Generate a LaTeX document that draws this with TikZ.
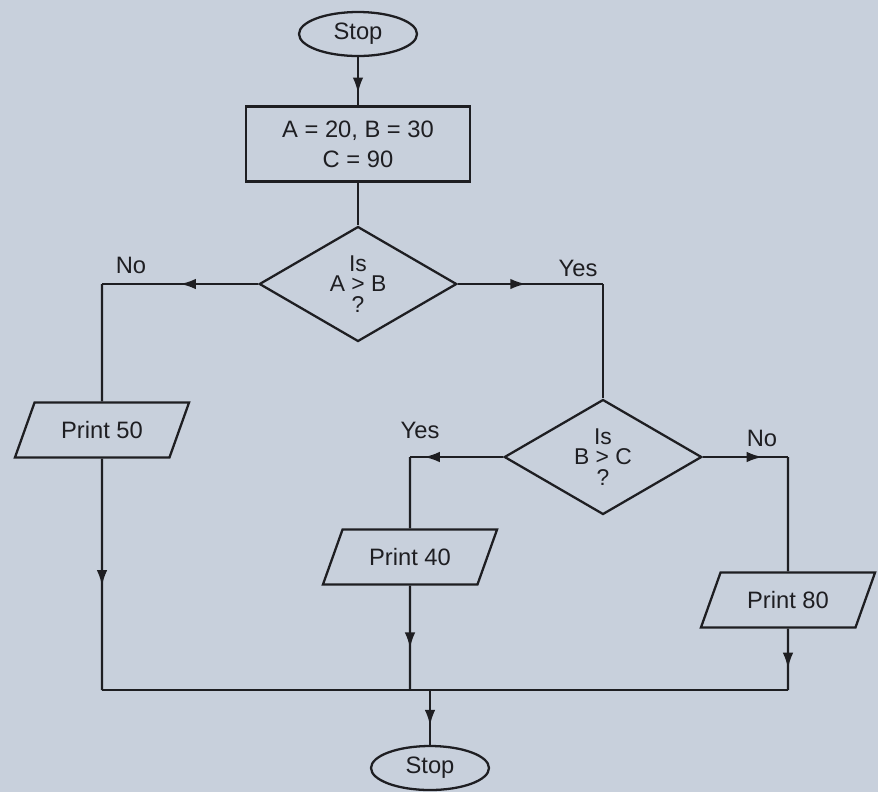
\documentclass[tikz,border=0pt]{standalone}
\usepackage{fontspec}
\setmainfont{Liberation Sans}
\usetikzlibrary{shapes.geometric,arrows.meta,decorations.markings}
\definecolor{paper}{RGB}{200,208,220}
\definecolor{ink}{RGB}{30,30,34}

\begin{document}
\begin{tikzpicture}[x=0.02cm,y=-0.02cm,
  every node/.style={font=\fontsize{13.5}{16}\selectfont,text=ink},
  line/.style={draw=ink,line width=1.3pt},
  term/.style={line,ellipse,minimum width=2.36cm,minimum height=0.88cm,inner sep=0pt},
  procbox/.style={line,rectangle,minimum width=4.48cm,minimum height=1.5cm,align=center,font=\fontsize{13.5}{17}\selectfont},
  decide/.style={line,diamond,minimum width=3.95cm,minimum height=2.3cm,inner sep=0pt,align=center,font=\fontsize{13}{11.5}\selectfont},
  io/.style={line,trapezium,trapezium left angle=65,trapezium right angle=115,trapezium stretches=true,minimum width=3.5cm,minimum height=1.1cm},
  arr/.style={line,postaction={decorate,decoration={markings,mark=at position #1 with {\arrow{Latex[length=9pt,width=6pt]}}}}}]
\useasboundingbox (0,0) rectangle (878,792);
\fill[paper] (0,0) rectangle (878,792);
\node[term] (top) at (358,34) {Stop};
\node[procbox] (init) at (358,144) {A = 20, B = 30\\C = 90};
\node[decide] (isab) at (358,284) {Is\\A > B\\?};
\node[io] (p50) at (102,430) {Print 50};
\node[decide] (isbc) at (603,457) {Is\\B > C\\?};
\node[io] (p40) at (410,557) {Print 40};
\node[io] (p80) at (788,600) {Print 80};
\node[term] (end) at (430,768) {Stop};
\coordinate (nocorner) at (102,284);
\coordinate (yescorner) at (603,284);
\coordinate (ycorner) at (410,457);
\coordinate (ncorner) at (788,457);
\coordinate (jl) at (102,690);
\coordinate (jr) at (788,690);
\coordinate (j40) at (410,690);
\coordinate (jend) at (430,690);
\draw[arr=0.75] (top) -- (init);
\draw[line] (init) -- (isab);
\draw[arr=0.5] (isab.west) -- (nocorner);
\draw[line] (nocorner) -- (p50);
\draw[arr=0.47] (isab.east) -- (yescorner);
\draw[line] (yescorner) -- (isbc);
\draw[arr=0.85] (isbc.west) -- (ycorner);
\draw[line] (ycorner) -- (p40);
\draw[arr=0.7] (isbc.east) -- (ncorner);
\draw[line] (ncorner) -- (p80);
\draw[arr=0.55] (p50) -- (jl);
\draw[arr=0.6] (p40) -- (j40);
\draw[arr=0.65] (p80) -- (jr);
\draw[line] (jl) -- (jr);
\draw[arr=0.65] (jend) -- (end);
\node (no1) at (131,265) {No};
\node (yes1) at (578,268) {Yes};
\node (yes2) at (420,430) {Yes};
\node (no2) at (762,438) {No};
\end{tikzpicture}
\end{document}
